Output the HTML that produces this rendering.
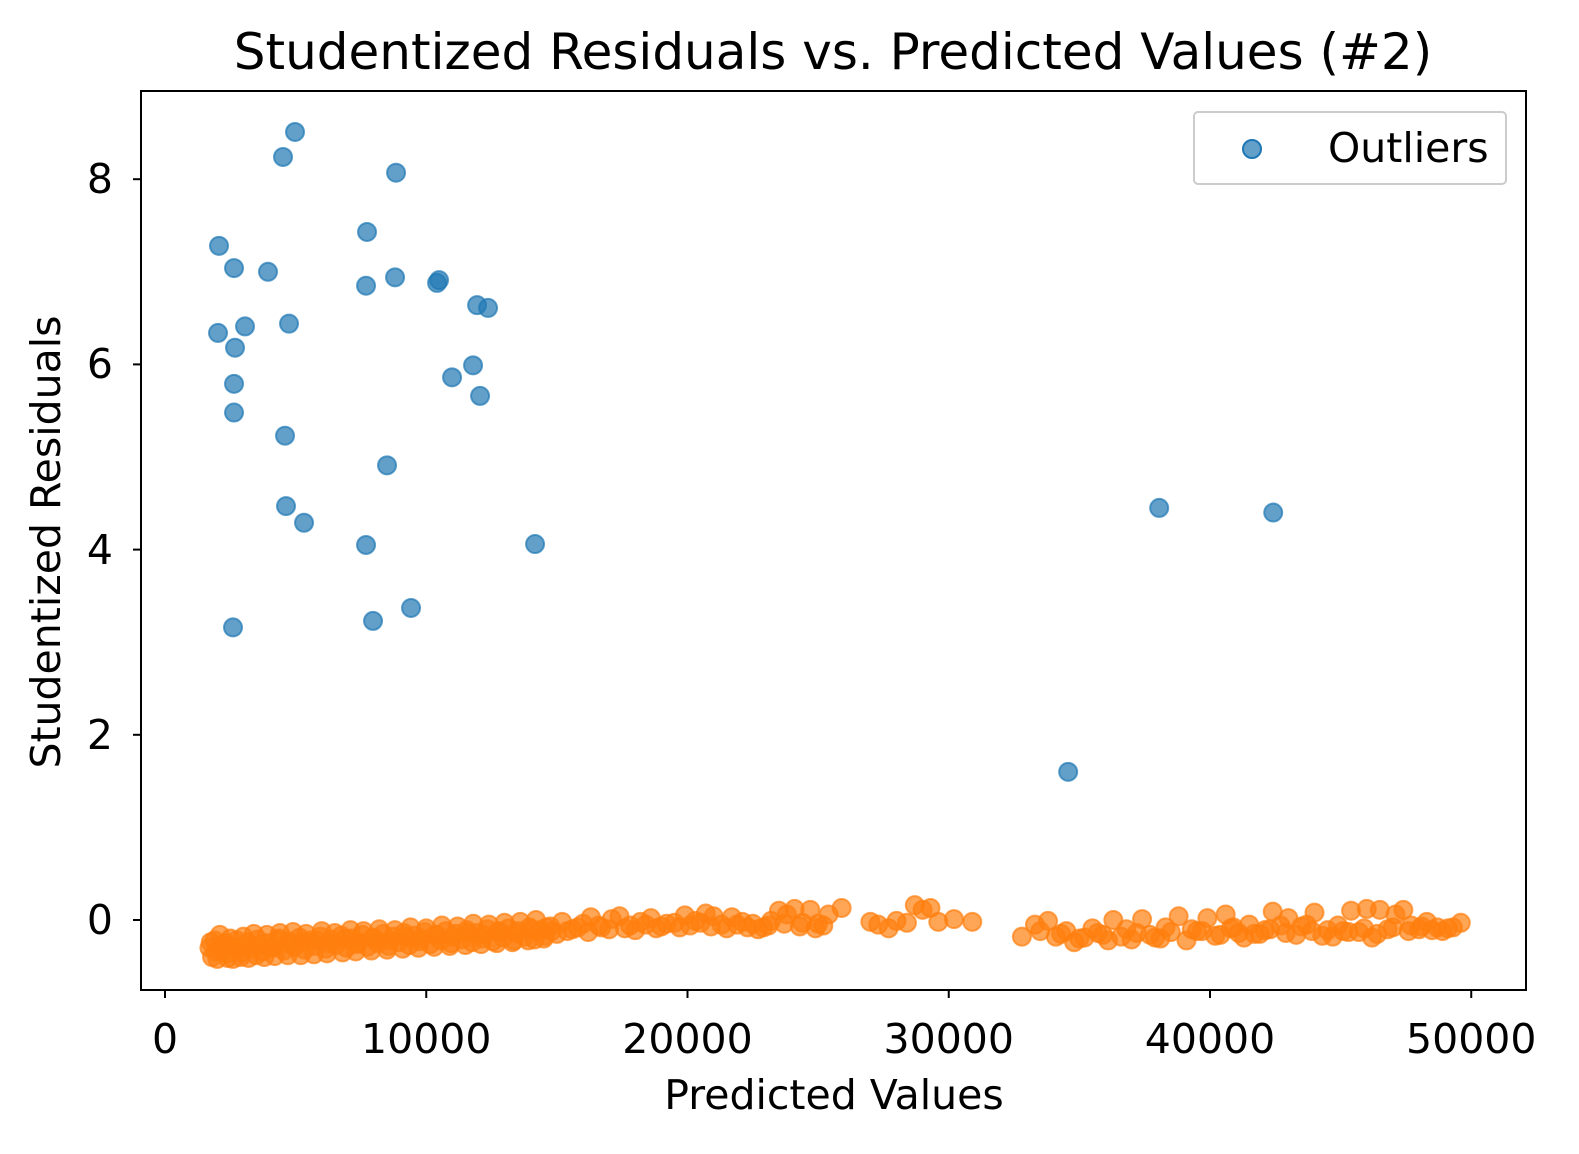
<!DOCTYPE html>
<html><head><meta charset="utf-8"><style>
html,body{margin:0;padding:0;background:#fff;width:1579px;height:1154px;overflow:hidden}
#wrap{position:relative;width:1579px;height:1154px}
svg{position:absolute;left:0;top:0}
.lbl{position:absolute;font-family:"DejaVu Sans","Liberation Sans",sans-serif;color:#000;white-space:nowrap;height:60px;line-height:60px}
.f22{font-size:41px}
.f27{font-size:50px}
</style></head><body>
<div id="wrap">
<svg id="chart" width="1579" height="1154" viewBox="0 0 1579 1154" xmlns="http://www.w3.org/2000/svg">
<rect width="1579" height="1154" fill="#fff"/>
<g id="marks"></g>
<g id="axes"></g>
<rect x="141" y="91" width="1385" height="899" fill="none" stroke="#000" stroke-width="2"/>
<g>
<rect x="1194" y="112" width="312" height="72" rx="4" fill="#fff" fill-opacity="0.8" stroke="#ccc" stroke-width="2"/>
<circle cx="1252" cy="149" r="9" fill="#1f77b4" fill-opacity="0.7" stroke="#1f77b4" stroke-width="2"/>
</g>
</svg>
<div class="lbl f27" style="left:0;width:1666px;text-align:center;top:22px">Studentized Residuals vs. Predicted Values (#2)</div>
<div class="lbl f22" style="left:0;width:1668px;text-align:center;top:1065px">Predicted Values</div>
<div class="lbl f22" style="left:46px;top:542px;transform:translate(-50%,-50%) rotate(-90deg)">Studentized Residuals</div>
<div class="lbl f22" style="left:1328px;top:118px">Outliers</div>
<div id="ticklabels"></div>
</div>
<script>
const outlierX=[4977,4518,8844,2067,2642,3943,7733,7695,8806,10413,10490,11945,12366,2029,3063,2680,4747,11792,10988,12060,2642,2642,4594,8499,4632,5322,7695,14165,2603,7963,9418,34571,38055,42420];
const outlierY=[8.51,8.24,8.07,7.28,7.04,7.00,7.43,6.85,6.94,6.88,6.91,6.64,6.61,6.34,6.41,6.18,6.44,5.99,5.86,5.66,5.79,5.48,5.23,4.91,4.47,4.29,4.05,4.06,3.16,3.23,3.37,1.60,4.45,4.40];
const inlierX=[1700,1800,1900,2000,2100,2200,2300,2400,2500,2600,2700,2900,3000,3100,3200,3400,3500,3600,3800,3900,4000,4200,4300,4400,4700,4800,4900,5200,5300,5400,5700,5800,6000,6200,6300,6500,6800,6900,7100,7300,7400,7600,7900,8000,8200,8500,8600,8800,9100,9200,9400,9700,9800,10000,10300,10400,10600,10900,11000,11200,11500,11600,11800,12100,12200,12400,12700,12800,13000,13300,13400,13600,13900,14000,14200,14500,14600,14800,15200,15600,16000,16300,16700,17100,17400,17800,18200,18600,19000,19500,19900,20300,20700,21000,21300,21700,22100,22500,22900,23200,23500,23800,24100,24400,24700,25000,25400,25900,27000,27300,27700,28000,28400,28700,29000,29300,29600,30200,30900,32800,33300,33800,34100,34500,34800,35200,35700,36100,36300,36600,37000,37400,37700,38100,38500,38800,39100,39500,39900,40200,40600,40900,41300,41700,42100,42400,42700,43000,43300,43700,44000,44300,44700,45100,45400,45700,46000,46200,46500,46800,47100,47400,47700,48000,48300,48700,49100,49600,
1750,1950,2150,2350,2550,2750,2950,3150,3350,3550,3750,3950,4150,4350,4550,4750,4950,5150,5350,5550,5750,5950,6150,6350,6550,6750,6950,7150,7350,7550,7750,7950,8150,8350,8550,8750,8950,9150,9350,9550,9750,9950,10150,10350,10550,10750,10950,11150,11350,11550,11750,11950,12150,12350,12550,12750,12950,13150,13350,13550,13750,13950,14150,14350,14550,14750,15000,15400,15800,16200,16600,17000,17600,18000,18400,18800,19200,19700,20100,20500,20900,21500,21900,22300,22700,23100,23700,24300,24900,25200,33500,34300,35000,35500,35900,36800,37200,37900,38300,39300,39700,40400,40800,41100,41500,41900,42300,42900,43500,43900,44500,44900,45300,45900,46400,47000,47600,48100,48500,48900,49300];
const inlierY=[-0.30,-0.40,-0.22,-0.42,-0.16,-0.33,-0.25,-0.41,-0.20,-0.42,-0.30,-0.40,-0.18,-0.28,-0.41,-0.15,-0.38,-0.27,-0.40,-0.16,-0.30,-0.39,-0.22,-0.14,-0.38,-0.26,-0.13,-0.38,-0.24,-0.15,-0.37,-0.22,-0.12,-0.36,-0.25,-0.14,-0.35,-0.20,-0.11,-0.34,-0.24,-0.12,-0.33,-0.20,-0.10,-0.32,-0.22,-0.11,-0.31,-0.18,-0.08,-0.30,-0.20,-0.09,-0.29,-0.16,-0.06,-0.28,-0.18,-0.07,-0.27,-0.14,-0.04,-0.26,-0.16,-0.05,-0.25,-0.12,-0.03,-0.24,-0.14,-0.02,-0.22,-0.10,0.00,-0.20,-0.08,-0.12,-0.02,-0.10,-0.04,0.03,-0.08,0.01,0.04,-0.06,-0.02,0.02,-0.07,-0.03,0.05,-0.01,0.07,0.04,-0.05,0.03,-0.02,-0.04,-0.08,-0.01,0.10,0.06,0.12,-0.03,0.11,-0.04,0.06,0.13,-0.02,-0.05,-0.09,-0.01,-0.03,0.16,0.11,0.13,-0.02,0.01,-0.02,-0.18,-0.05,-0.01,-0.18,-0.12,-0.24,-0.19,-0.14,-0.22,0.00,-0.18,-0.21,0.01,-0.16,-0.20,-0.13,0.04,-0.22,-0.12,0.02,-0.17,0.06,-0.08,-0.19,-0.15,-0.11,0.09,-0.06,0.02,-0.16,-0.05,0.08,-0.17,-0.18,-0.12,0.10,-0.13,0.12,-0.19,0.11,-0.10,0.06,0.11,-0.06,-0.10,-0.02,-0.08,-0.09,-0.03,
-0.24,-0.34,-0.27,-0.36,-0.29,-0.22,-0.35,-0.24,-0.31,-0.21,-0.34,-0.25,-0.30,-0.20,-0.33,-0.23,-0.29,-0.19,-0.32,-0.22,-0.28,-0.18,-0.31,-0.21,-0.27,-0.17,-0.30,-0.20,-0.26,-0.16,-0.29,-0.19,-0.25,-0.15,-0.28,-0.18,-0.24,-0.14,-0.27,-0.17,-0.23,-0.13,-0.26,-0.16,-0.22,-0.12,-0.25,-0.15,-0.21,-0.11,-0.24,-0.14,-0.20,-0.10,-0.23,-0.13,-0.19,-0.09,-0.22,-0.12,-0.18,-0.08,-0.21,-0.11,-0.17,-0.07,-0.15,-0.12,-0.08,-0.13,-0.06,-0.10,-0.09,-0.11,-0.05,-0.09,-0.04,-0.08,-0.06,-0.03,-0.07,-0.09,-0.05,-0.08,-0.10,-0.06,-0.04,-0.07,-0.09,-0.06,-0.12,-0.15,-0.20,-0.09,-0.16,-0.10,-0.14,-0.19,-0.08,-0.10,-0.12,-0.16,-0.09,-0.14,-0.05,-0.15,-0.10,-0.14,-0.07,-0.12,-0.11,-0.06,-0.13,-0.09,-0.15,-0.08,-0.12,-0.07,-0.11,-0.12,-0.08];
const xTicks=[0,10000,20000,30000,40000,50000];
const yTicks=[0,2,4,6,8];

const NS='http://www.w3.org/2000/svg';
function xs(v){return 165+v*0.026125;}
function ys(v){return 920-v*92.6;}
const marks=document.getElementById('marks');
const axes=document.getElementById('axes');
const tl=document.getElementById('ticklabels');
function dot(x,y,color,name){
  const c=document.createElementNS(NS,'circle');
  c.setAttribute('cx',xs(x));c.setAttribute('cy',ys(y));c.setAttribute('r',9);
  c.setAttribute('fill',color);c.setAttribute('fill-opacity','0.7');
  c.setAttribute('stroke',color);c.setAttribute('stroke-opacity','0.7');c.setAttribute('stroke-width','2');
  
  
  marks.appendChild(c);
}
for(let i=0;i<inlierX.length;i++){dot(inlierX[i],inlierY[i],'#ff7f0e','inlier-point');}
for(let i=0;i<outlierX.length;i++){dot(outlierX[i],outlierY[i],'#1f77b4','outlier-point');}
xTicks.forEach(t=>{
  const x=xs(t);
  const l=document.createElementNS(NS,'line');
  l.setAttribute('x1',x);l.setAttribute('x2',x);l.setAttribute('y1',990);l.setAttribute('y2',998);
  l.setAttribute('stroke','#000');l.setAttribute('stroke-width','2');
  
  
  axes.appendChild(l);
  const d=document.createElement('div');
  d.className='lbl f22';
  d.style.left=(x-150)+'px';d.style.width='300px';d.style.textAlign='center';d.style.top='1009px';
  d.textContent=t;
  
  
  tl.appendChild(d);
});
yTicks.forEach(t=>{
  const y=ys(t);
  const l=document.createElementNS(NS,'line');
  l.setAttribute('x1',133);l.setAttribute('x2',141);l.setAttribute('y1',y);l.setAttribute('y2',y);
  l.setAttribute('stroke','#000');l.setAttribute('stroke-width','2');
  
  
  axes.appendChild(l);
  const d=document.createElement('div');
  d.className='lbl f22';
  d.style.left='13px';d.style.width='100px';d.style.textAlign='right';d.style.top=(y-30)+'px';
  d.textContent=t;
  
  
  tl.appendChild(d);
});
</script>
</body></html>
